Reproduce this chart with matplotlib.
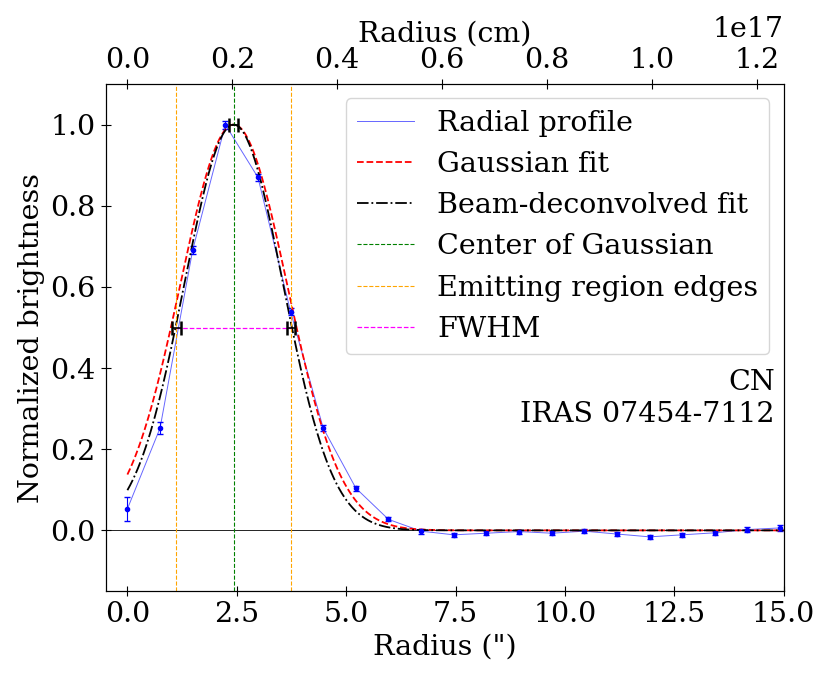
import numpy as np
import matplotlib
matplotlib.use('Agg')
import matplotlib.pyplot as plt
from matplotlib.ticker import MultipleLocator

plt.rcParams['font.family'] = 'DejaVu Serif'
plt.rcParams['font.size'] = 20.5

# Radial profile (arcsec, normalized)
radius = np.arange(21) * 0.746
bright = [0.053, 0.252, 0.691, 1.0, 0.87, 0.539, 0.252, 0.104, 0.027, -0.002,
          -0.011, -0.007, -0.003, -0.007, -0.002, -0.009, -0.016, -0.011,
          -0.006, 0.002, 0.006]
bright_err = [0.03, 0.015, 0.01, 0.01, 0.008, 0.008, 0.007, 0.006, 0.005, 0.006,
              0.005, 0.005, 0.005, 0.005, 0.005, 0.005, 0.005, 0.005,
              0.005, 0.006, 0.007]

# fit parameters
center = 2.43
sigma_fit = 1.22
sigma_deconv = 1.13
edges = [1.12, 3.74]
edge_err = 0.1
cm_per_arcsec = 8.34e15

fig, ax = plt.subplots(figsize=(8.31, 6.78), dpi=100)

xx = np.linspace(0, 15, 500)
gauss = np.exp(-(xx - center)**2 / (2 * sigma_fit**2))
deconv = np.exp(-(xx - center)**2 / (2 * sigma_deconv**2))

ax.axhline(0, color='black', lw=0.6)
ax.plot(radius, bright, color='blue', lw=0.7, alpha=0.6, label='Radial profile')
ax.errorbar(radius, bright, yerr=bright_err, fmt='o', ms=3, color='blue',
            capsize=2, elinewidth=0.8)
ax.plot(xx, gauss, 'r--', lw=1.3, label='Gaussian fit')
ax.plot(xx, deconv, 'k-.', lw=1.3, label='Beam-deconvolved fit')
ax.axvline(center, color='green', ls='--', lw=0.8, label='Center of Gaussian')
ax.axvline(edges[0], color='orange', ls='--', lw=0.8, label='Emitting region edges')
ax.axvline(edges[1], color='orange', ls='--', lw=0.8)
ax.plot(edges, [0.5, 0.5], color='magenta', ls='--', lw=0.9, label='FWHM')
ax.errorbar(edges + [center], [0.5, 0.5, 1.0], xerr=edge_err, fmt='none',
            color='black', capsize=5, elinewidth=1.2, capthick=1.8)

ax.set_xlim(-0.5, 15)
ax.set_ylim(-0.15, 1.1)
ax.xaxis.set_major_locator(MultipleLocator(2.5))
ax.set_xlabel('Radius (")')
ax.set_ylabel('Normalized brightness')
ax.tick_params(direction='inout', length=7)
ax.legend(loc='upper right')
ax.text(0.987, 0.38, 'CN\nIRAS 07454-7112', transform=ax.transAxes,
        ha='right', va='center', multialignment='right')

ax2 = ax.twiny()
ax2.set_xlim(-0.5 * cm_per_arcsec, 15 * cm_per_arcsec)
ax2.set_xlabel('Radius (cm)')
ax2.tick_params(direction='inout', length=7)

fig.subplots_adjust(left=0.127, right=0.943, top=0.876, bottom=0.128)
fig.savefig('out.png')
